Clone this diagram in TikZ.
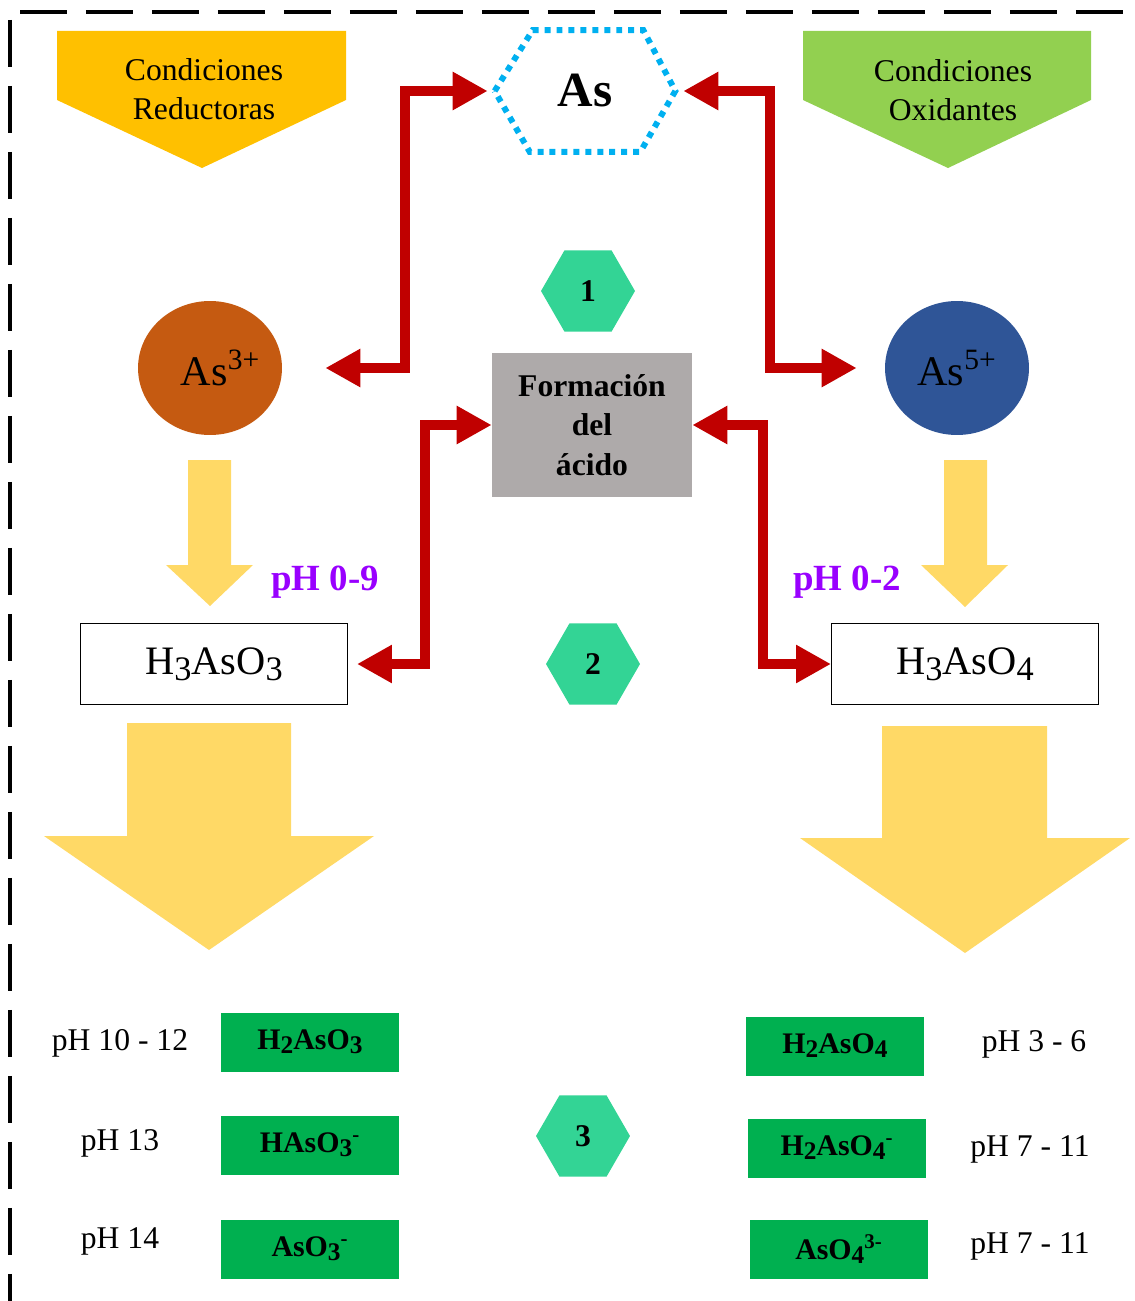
\documentclass[tikz,border=0pt]{standalone}
\usepackage{fontspec}
\setmainfont{Liberation Serif}
\usepackage{xcolor}
\usepackage{graphicx}
\usepackage{tikz}
\usetikzlibrary{shapes.geometric,arrows.meta,calc}

\definecolor{redcond}{HTML}{FFC000}
\definecolor{oxcond}{HTML}{92D050}
\definecolor{asblue}{HTML}{00B0F0}
\definecolor{linkred}{HTML}{C00000}
\definecolor{hexgreen}{HTML}{33D495}
\definecolor{acidgray}{HTML}{AEAAAA}
\definecolor{asorange}{HTML}{C55A11}
\definecolor{asnavy}{HTML}{2F5597}
\definecolor{flowyellow}{HTML}{FFD966}
\definecolor{phpurple}{HTML}{9900FF}
\definecolor{specgreen}{HTML}{00B050}

\newcommand{\chemlo}[1]{\raisebox{-0.3ex}{\scalebox{0.85}{#1}}}

\tikzset{
  framedash/.style={line width=2.3pt, dash pattern=on 0.95cm off 0.37cm},
  dothex/.style={draw=asblue, line width=3.4pt, dash pattern=on 3.4pt off 3.4pt},
  condtext/.style={align=center, font=\fontsize{18}{22.5}\selectfont},
  ion/.style={ellipse, minimum width=2.88cm, minimum height=2.68cm, inner sep=0pt, font=\fontsize{24}{28}\selectfont},
  acid/.style={draw, line width=0.6pt, minimum width=5.34cm, minimum height=1.62cm, inner sep=0pt, font=\fontsize{23}{28}\selectfont},
  species/.style={fill=specgreen, minimum width=3.58cm, minimum height=1.18cm, inner sep=0pt, font=\bfseries\fontsize{17}{20}\selectfont},
  phlabel/.style={font=\fontsize{18}{22}\selectfont},
  phrange/.style={text=phpurple, font=\bfseries\fontsize{21}{24}\selectfont},
  numhex/.style={regular polygon, regular polygon sides=6, minimum size=1.88cm, inner sep=0pt, fill=hexgreen, font=\bfseries\fontsize{18}{22}\selectfont},
  redlink/.style={draw=linkred, line width=6pt, line join=miter, {Triangle[length=0.7cm,width=0.72cm]}-{Triangle[length=0.7cm,width=0.72cm]}},
}

\begin{document}
\begin{tikzpicture}[x=0.02cm, y=-0.02cm]
  \useasboundingbox (0,0) rectangle (1134,1301);
  \draw[framedash] (20,12) -- (1134,12);
  \draw[framedash] (10,20) -- (10,1301);

  \fill[redcond] (57,31) -- (346,31) -- (346,100) -- (202,168) -- (57,100) -- cycle;
  \node[condtext] (red) at (204,89) {Condiciones\\Reductoras};
  \fill[oxcond] (803,31) -- (1091,31) -- (1091,100) -- (948,168) -- (803,100) -- cycle;
  \node[condtext] (ox) at (953,90) {Condiciones\\Oxidantes};

  \node[minimum width=3.6cm, minimum height=2.42cm, font=\bfseries\fontsize{28}{32}\selectfont] (as) at (585,91) {As};
  \draw[dothex] (as.west) -- ($(as.north west)+(38,0)$) -- ($(as.north east)+(-32,0)$) -- (as.east)
    -- ($(as.south east)+(-35,0)$) -- ($(as.south west)+(35,0)$) -- cycle;

  \node[numhex] (n1) at (588,291) {1};
  \node[numhex] (n2) at (593,664) {2};
  \node[numhex] (n3) at (583,1136) {3};

  \node[ion, fill=asorange] (as3) at (210,368) {\hspace{0.5em}As\textsuperscript{3+}};
  \node[ion, fill=asnavy] (as5) at (957,368) {As\textsuperscript{5+}};
  \node[fill=acidgray, minimum width=4cm, minimum height=2.9cm, align=center,
        font=\bfseries\fontsize{18}{22.5}\selectfont] (form) at (592,425) {Formación\\del\\ácido};

  \fill[flowyellow] (188,460) -- (231,460) -- (231,565) -- (253,565) -- (210,606) -- (166,565) -- (188,565) -- cycle;
  \fill[flowyellow] (944,460) -- (987,460) -- (987,565) -- (1008,565) -- (965,607) -- (921,565) -- (944,565) -- cycle;
  \node[phrange] (ph09) at (325,582) {pH 0-9};
  \node[phrange] (ph02) at (847,582) {pH 0-2};

  \node[acid] (h3o3) at (214,664) {H\chemlo{3}AsO\chemlo{3}};
  \node[acid] (h3o4) at (965,664) {H\chemlo{3}AsO\chemlo{4}};

  \draw[redlink, shorten <=0.14cm, shorten >=0.86cm] (as.west) -- (405,91) |- (as3.east);
  \draw[redlink, shorten <=0.16cm, shorten >=0.56cm] (as.east) -- (770,91) |- (as5.west);
  \draw[redlink, shorten >=0.18cm] (form.west) -- (425,425) |- (h3o3.east);
  \draw[redlink] (form.east) -- (763,425) |- (h3o4.west);

  \fill[flowyellow] (127,723) -- (291,723) -- (291,836) -- (374,836) -- (209,950) -- (44,836) -- (127,836) -- cycle;
  \fill[flowyellow] (882,726) -- (1047,726) -- (1047,838) -- (1130,838) -- (965,953) -- (800,838) -- (882,838) -- cycle;

  \node[species] (s31) at (310,1042) {H\chemlo{2}AsO\chemlo{3}};
  \node[species] (s32) at (310,1145) {HAsO\chemlo{3}\textsuperscript{-}};
  \node[species] (s33) at (310,1249) {AsO\chemlo{3}\textsuperscript{-}};
  \node[phlabel] (p31) at (120,1043) {pH 10 - 12};
  \node[phlabel] (p32) at (120,1143) {pH 13};
  \node[phlabel] (p33) at (120,1241) {pH 14};

  \node[species] (s41) at (835,1046) {H\chemlo{2}AsO\chemlo{4}};
  \node[species] (s42) at (837,1148) {H\chemlo{2}AsO\chemlo{4}\textsuperscript{-}};
  \node[species] (s43) at (839,1249) {AsO\chemlo{4}\textsuperscript{3-}};
  \node[phlabel] (p41) at (1034,1044) {pH 3 - 6};
  \node[phlabel] (p42) at (1030,1149) {pH 7 - 11};
  \node[phlabel] (p43) at (1030,1246) {pH 7 - 11};
\end{tikzpicture}
\end{document}
